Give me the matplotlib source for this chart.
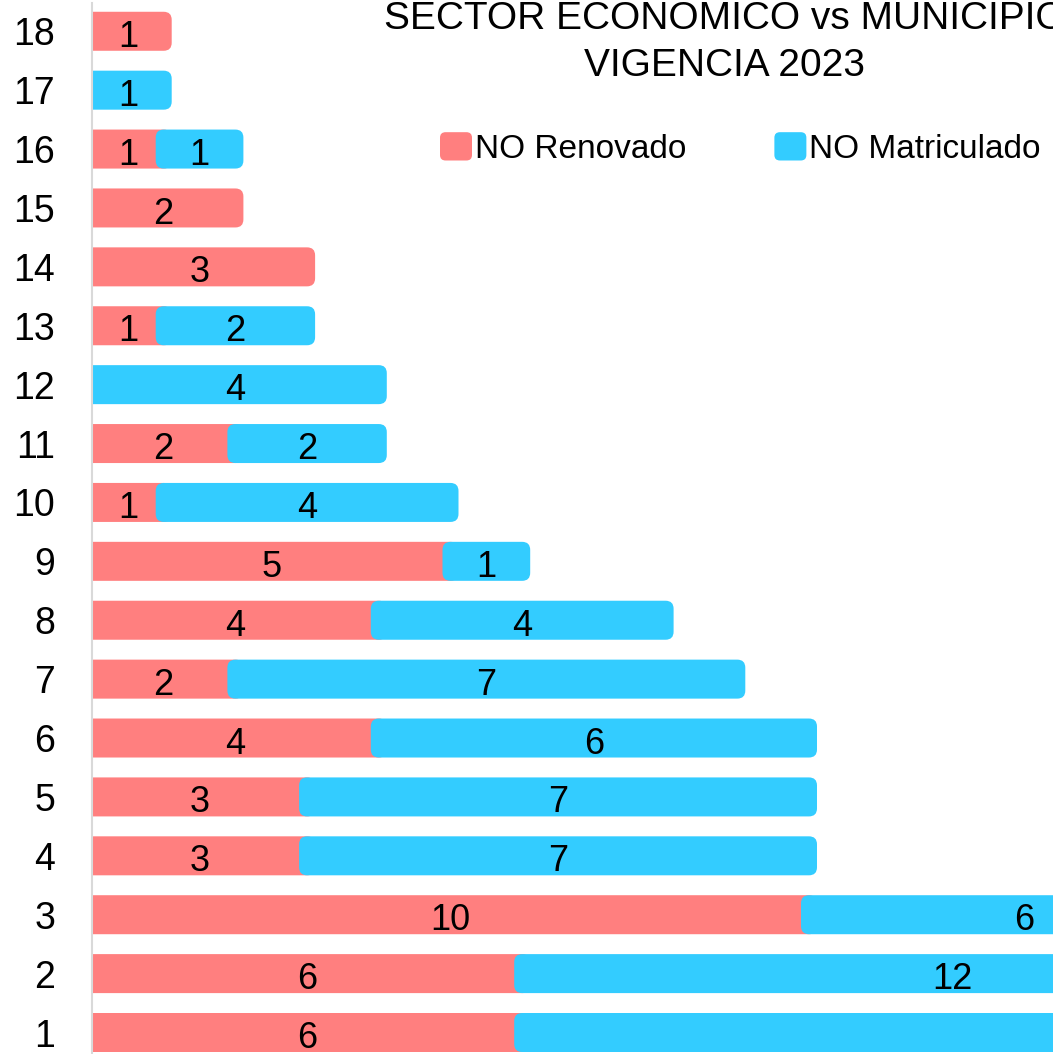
import matplotlib
matplotlib.use("Agg")
import matplotlib.pyplot as plt
from matplotlib.patches import FancyBboxPatch, Patch
from matplotlib.legend_handler import HandlerPatch

plt.rcParams['font.family'] = ['Liberation Sans', 'DejaVu Sans']

# ---- data ----
categories = [str(i) for i in range(1, 19)]
no_renovado = [6, 6, 10, 3, 3, 4, 2, 4, 5, 1, 2, 0, 1, 3, 2, 1, 0, 1]
no_matriculado = [16, 12, 6, 7, 7, 6, 7, 4, 1, 4, 2, 4, 2, 0, 0, 1, 1, 0]
series_names = ['NO Renovado', 'NO Matriculado']
title_lines = ['SECTOR ECONOMICO vs MUNICIPIO', 'VIGENCIA 2023']

RED = '#FF7F7F'
CYAN = '#33CCFF'

W, H = 1053, 1054
fig = plt.figure(figsize=(W / 100, H / 100), dpi=100)
px_per_unit = 71.7
row_px = 58.9
ax = fig.add_axes([92 / W, 0, 1 - 92 / W, (H - 3) / H])
ax.set_xlim(0, (W - 92) / px_per_unit)
ax.set_ylim(0.635, 18.48)

ypos = list(range(1, len(categories) + 1))
bar_h = 39 / row_px
pad = 8 / px_per_unit
rnd = 8 / px_per_unit
aspect = px_per_unit / row_px

bars_r = ax.barh(ypos, no_renovado, height=bar_h, color=RED)
bars_m = ax.barh(ypos, no_matriculado, left=no_renovado, height=bar_h, color=CYAN)

for container, vals, color, z in [(bars_r, no_renovado, RED, 2), (bars_m, no_matriculado, CYAN, 3)]:
    for rect, v in zip(container.patches, vals):
        rect.set_visible(False)
        if v <= 0:
            continue
        x0, y0 = rect.get_x(), rect.get_y()
        w, h = rect.get_width(), rect.get_height()
        p = FancyBboxPatch((x0 - pad, y0), w + 2 * pad, h,
                           boxstyle=f"round,pad=0,rounding_size={rnd}",
                           mutation_aspect=aspect, fc=color, ec='none', zorder=z)
        ax.add_patch(p)
        ax.annotate(str(v), xy=(x0 + w / 2, y0 + h / 2), xytext=(0, -11.2),
                    textcoords='offset points', ha='center', va='baseline',
                    fontsize=26, color='black', zorder=5, annotation_clip=True)

ax.set_yticks(ypos, categories)
ax.tick_params(axis='y', length=0, pad=26.6, labelsize=27)
ax.tick_params(axis='x', bottom=False, labelbottom=False)
for s in ['top', 'right', 'bottom']:
    ax.spines[s].set_visible(False)
ax.spines['left'].set_color('#D9D9D9')
ax.spines['left'].set_linewidth(1.5)
ax.spines['left'].set_zorder(6)

fig.text(725 / W, 1 - 29 / H, title_lines[0], ha='center', va='baseline', fontsize=28)
fig.text(725 / W, 1 - 76 / H, title_lines[1], ha='center', va='baseline', fontsize=28)


class RoundHandler(HandlerPatch):
    def create_artists(self, legend, orig_handle, xdescent, ydescent, width, height, fontsize, trans):
        p = FancyBboxPatch((-xdescent, -ydescent), width, height,
                           boxstyle="round,pad=0,rounding_size=4",
                           fc=orig_handle.get_facecolor(), ec='none', transform=trans)
        return [p]


handles = [Patch(fc=RED, label=series_names[0]), Patch(fc=CYAN, label=series_names[1])]
fig.legend(handles=handles, handler_map={Patch: RoundHandler()}, loc='center left',
           bbox_to_anchor=(440 / W, 1 - 148.5 / H), ncol=2, frameon=False, fontsize=24,
           handlelength=0.96, handleheight=0.93, handletextpad=0.09, columnspacing=2.64,
           borderpad=0, borderaxespad=0)

fig.savefig('out.png', dpi=100)
